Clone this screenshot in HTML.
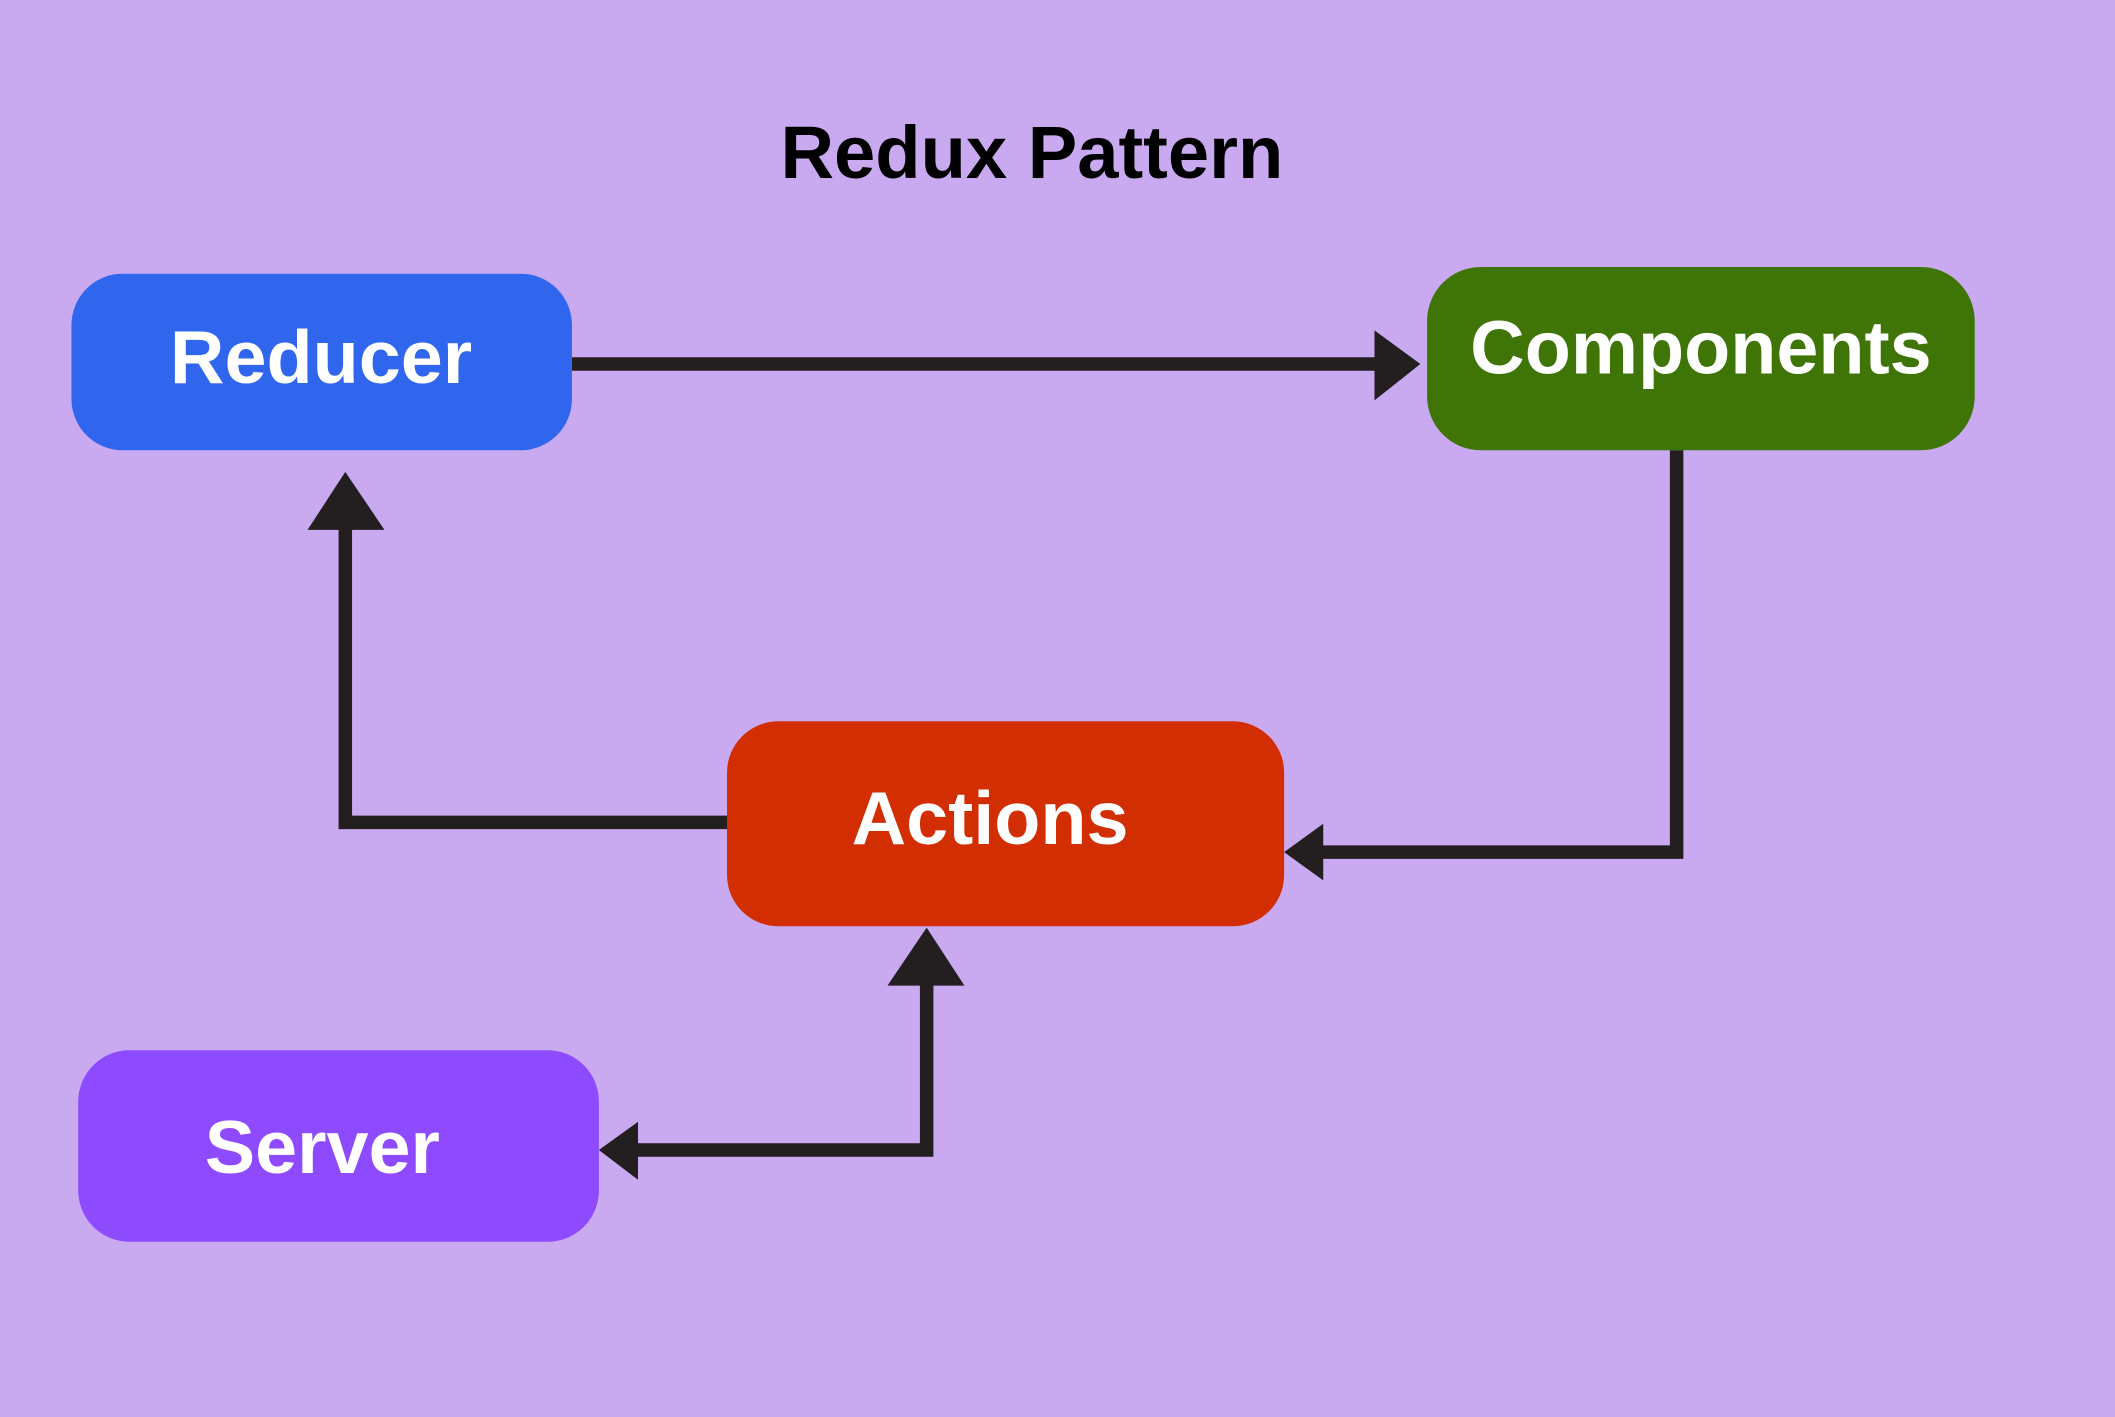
<!DOCTYPE html>
<html><head><style>
html,body{margin:0;padding:0;background:#c9a9f0;}
svg{display:block;}
text{font-family:"Liberation Sans",Arial,sans-serif;font-weight:bold;}
</style></head><body>
<svg width="2115" height="1417" viewBox="0 0 1568 1051" preserveAspectRatio="none" xmlns="http://www.w3.org/2000/svg">
<rect width="1568" height="1051" fill="#c9a9f0"/>
<text x="765" y="132" font-size="55" text-anchor="middle" fill="#000">Redux Pattern</text>
<g fill="none" stroke="#231f20" stroke-width="10">
<path d="M424 270 H1022"/>
<path d="M1243 334 V632 H978"/>
<path d="M540 610 H256 V390"/>
<path d="M687 729 V853 H470"/>
</g>
<g fill="#231f20">
<polygon points="1053,270 1019,245 1019,297"/>
<polygon points="952,632 981,611 981,653"/>
<polygon points="256,350 228,393 285,393"/>
<polygon points="687,688 658,731 715,731"/>
<polygon points="444,853 473,832 473,875"/>
</g>
<rect x="53" y="203" width="371" height="131" rx="38" fill="#3066ee"/>
<rect x="1058" y="198" width="406" height="136" rx="40" fill="#3f7507"/>
<rect x="539" y="535" width="413" height="152" rx="38" fill="#d22e02"/>
<rect x="58" y="779" width="386" height="142" rx="38" fill="#8e4afe"/>
<g fill="#fff" font-size="56" text-anchor="middle">
<text x="238" y="284">Reducer</text>
<text x="1261" y="277">Components</text>
<text x="734" y="626">Actions</text>
<text x="239" y="870">Server</text>
</g>
</svg>
</body></html>
